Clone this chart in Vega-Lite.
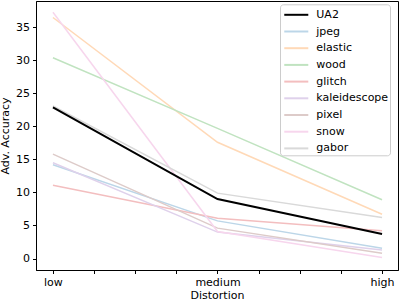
{
  "$schema": "https://vega.github.io/schema/vega-lite/v6.json",
  "autosize": {"type": "none"},
  "width": 362,
  "height": 269,
  "padding": {"left": 36, "top": 1, "right": 1, "bottom": 33},
  "config": {
    "font": "DejaVu Sans",
    "view": {"stroke": "#000", "strokeWidth": 1},
    "axis": {"grid": false, "domainColor": "#000", "tickColor": "#000", "labelColor": "#000", "titleColor": "#000",
      "labelFont": "DejaVu Sans", "titleFont": "DejaVu Sans", "labelFontSize": 11, "titleFontSize": 11, "titleFontWeight": "normal",
      "tickSize": 3.5, "labelPadding": 3, "labelOverlap": false},
    "legend": {"labelFont": "DejaVu Sans"}
  },
  "data": {"values": [
    {"series": "UA2", "level": 0, "acc": 22.9}, {"series": "UA2", "level": 1, "acc": 9.0}, {"series": "UA2", "level": 2, "acc": 3.7},
    {"series": "jpeg", "level": 0, "acc": 14.2}, {"series": "jpeg", "level": 1, "acc": 5.7}, {"series": "jpeg", "level": 2, "acc": 1.55},
    {"series": "elastic", "level": 0, "acc": 36.5}, {"series": "elastic", "level": 1, "acc": 17.6}, {"series": "elastic", "level": 2, "acc": 6.7},
    {"series": "wood", "level": 0, "acc": 30.4}, {"series": "wood", "level": 1, "acc": 19.7}, {"series": "wood", "level": 2, "acc": 8.9},
    {"series": "glitch", "level": 0, "acc": 11.1}, {"series": "glitch", "level": 1, "acc": 6.1}, {"series": "glitch", "level": 2, "acc": 4.2},
    {"series": "kaleidescope", "level": 0, "acc": 14.5}, {"series": "kaleidescope", "level": 1, "acc": 4.0}, {"series": "kaleidescope", "level": 2, "acc": 1.3},
    {"series": "pixel", "level": 0, "acc": 15.8}, {"series": "pixel", "level": 1, "acc": 4.6}, {"series": "pixel", "level": 2, "acc": 0.8},
    {"series": "snow", "level": 0, "acc": 37.3}, {"series": "snow", "level": 1, "acc": 4.1}, {"series": "snow", "level": 2, "acc": 0.15},
    {"series": "gabor", "level": 0, "acc": 23.1}, {"series": "gabor", "level": 1, "acc": 9.9}, {"series": "gabor", "level": 2, "acc": 6.2}
  ]},
  "encoding": {
    "x": {"field": "level", "type": "quantitative",
      "scale": {"domain": [-0.103, 2.097], "nice": false, "zero": false},
      "axis": {"title": "Distortion", "values": [0, 0.25, 0.5, 0.75, 1, 1.25, 1.5, 1.75, 2],
        "labelExpr": "datum.value === 0 ? 'low' : datum.value === 1 ? 'medium' : datum.value === 2 ? 'high' : ''",
        "titlePadding": 2}},
    "y": {"field": "acc", "type": "quantitative",
      "scale": {"domain": [-1.74, 39.0], "nice": false, "zero": false},
      "axis": {"title": "Adv. Accuracy", "values": [0, 5, 10, 15, 20, 25, 30, 35], "titlePadding": 5}},
    "color": {"field": "series", "type": "nominal",
      "scale": {"domain": ["UA2", "jpeg", "elastic", "wood", "glitch", "kaleidescope", "pixel", "snow", "gabor"],
        "range": ["#000000", "#bcd6e8", "#ffd9b7", "#c0e3c0", "#f3bebf", "#dfd1eb", "#ddcbc9", "#f7d6ed", "#d9d9d9"]},
      "legend": {"title": null, "orient": "none", "legendX": 244, "legendY": 3.3,
        "symbolType": "M-0.76,0H2.17", "symbolSize": 269, "symbolStrokeWidth": 2, "symbolFillColor": "transparent",
        "labelFontSize": 11, "labelColor": "#000", "labelOffset": 16.3, "rowPadding": 1.7, "padding": 1,
        "strokeColor": "#cccccc", "fillColor": "#ffffff", "cornerRadius": 3}}
  },
  "layer": [
    {
      "transform": [{"filter": "datum.series !== 'UA2'"}],
      "mark": {"type": "line", "strokeWidth": 1.5, "clip": true}
    },
    {
      "transform": [{"filter": "datum.series === 'UA2'"}],
      "mark": {"type": "line", "strokeWidth": 2, "clip": true}
    }
  ]
}
